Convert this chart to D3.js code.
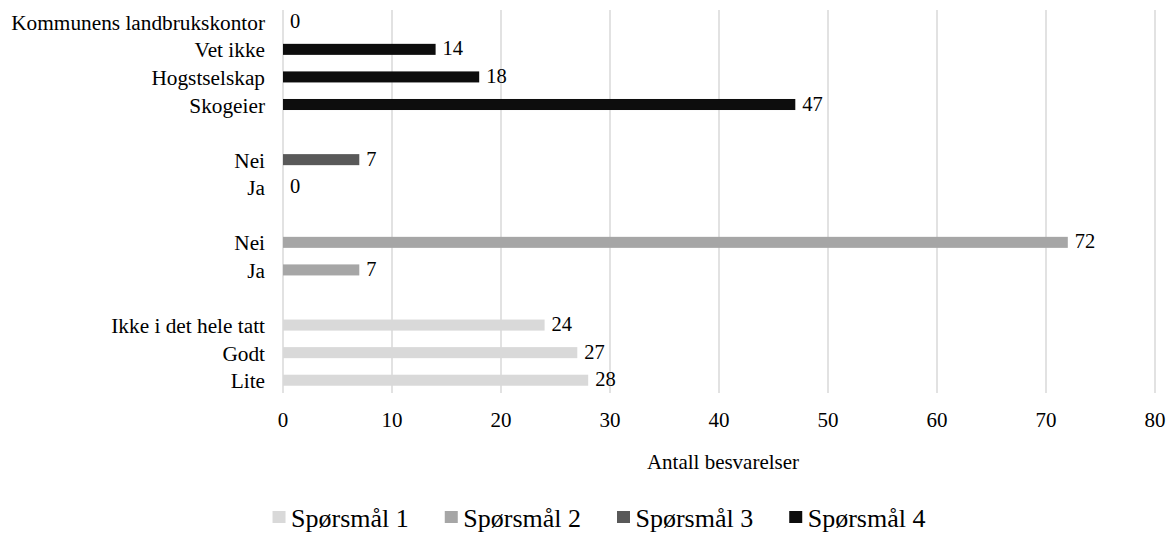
<!DOCTYPE html>
<html>
<head>
<meta charset="utf-8">
<script src="https://cdn.jsdelivr.net/npm/d3@7"></script>
<style>
  html, body { margin: 0; padding: 0; background: #fff; }
  svg { display: block; font-family: "Liberation Serif", "Times New Roman", serif; }
</style>
</head>
<body>
<svg id="chart" width="1173" height="533"></svg>
<script>
// Answer counts per question (bottom-to-top order within each group)
const q1Labels = ["Lite", "Godt", "Ikke i det hele tatt"];
const q1Values = [28, 27, 24];
const q2Labels = ["Ja", "Nei"];
const q2Values = [7, 72];
const q3Labels = ["Ja", "Nei"];
const q3Values = [0, 7];
const q4Labels = ["Skogeier", "Hogstselskap", "Vet ikke", "Kommunens landbrukskontor"];
const q4Values = [47, 18, 14, 0];

const seriesNames = ["Spørsmål 1", "Spørsmål 2", "Spørsmål 3", "Spørsmål 4"];
const seriesColors = ["#d9d9d9", "#a6a6a6", "#595959", "#0d0d0d"];
const xTicks = [0, 10, 20, 30, 40, 50, 60, 70, 80];
const xTitle = "Antall besvarelser";

(function () {
  // Build rows from bottom to top, with an empty slot between question groups
  const groups = [
    { labels: q1Labels, values: q1Values, s: 0 },
    { labels: q2Labels, values: q2Values, s: 1 },
    { labels: q3Labels, values: q3Values, s: 2 },
    { labels: q4Labels, values: q4Values, s: 3 }
  ];
  const rows = [];
  groups.forEach((g, gi) => {
    if (gi > 0) rows.push({ id: "gap" + gi, label: "", value: null, s: null });
    g.labels.forEach((l, i) => rows.push({ id: g.s + "-" + i, label: l, value: g.values[i], s: g.s }));
  });

  const svg = d3.select("#chart");
  const plotLeft = 283, plotRight = 1155, plotTop = 8, plotBottom = 394;

  const x = d3.scaleLinear().domain([0, 80]).range([plotLeft, plotRight]);
  const y = d3.scaleBand().domain(rows.map(r => r.id))
    .range([plotBottom, plotTop]).paddingInner(0.6).paddingOuter(0.3);

  // Vertical gridlines
  svg.append("g").selectAll("line").data(xTicks).join("line")
    .attr("x1", d => x(d)).attr("x2", d => x(d))
    .attr("y1", 10).attr("y2", 393)
    .attr("stroke", "#d9d9d9").attr("stroke-width", 1.5);

  // Tick labels
  svg.append("g").selectAll("text").data(xTicks).join("text")
    .attr("x", d => x(d)).attr("y", 427)
    .attr("text-anchor", "middle")
    .attr("font-size", 21).attr("fill", "#000")
    .text(d => d);

  // Axis title
  svg.append("text")
    .attr("x", 723).attr("y", 469)
    .attr("text-anchor", "middle")
    .attr("font-size", 21).attr("fill", "#000")
    .text(xTitle);

  const dataRows = rows.filter(r => r.value !== null);

  // Bars
  svg.append("g").selectAll("rect").data(dataRows).join("rect")
    .attr("x", x(0))
    .attr("y", d => y(d.id))
    .attr("width", d => x(d.value) - x(0))
    .attr("height", y.bandwidth())
    .attr("fill", d => seriesColors[d.s]);

  // Category labels
  svg.append("g").selectAll("text").data(dataRows).join("text")
    .attr("x", 265)
    .attr("y", d => y(d.id) + y.bandwidth() / 2 + 8)
    .attr("text-anchor", "end")
    .attr("font-size", 21.3).attr("fill", "#000")
    .text(d => d.label);

  // Value labels
  svg.append("g").selectAll("text").data(dataRows).join("text")
    .attr("x", d => x(d.value) + 7)
    .attr("y", d => y(d.id) + y.bandwidth() / 2 + 6)
    .attr("font-size", 20.5).attr("fill", "#000")
    .text(d => d.value);

  // Legend
  const legend = svg.append("g");
  let lx = 0;
  seriesNames.forEach((name, i) => {
    const item = legend.append("g").attr("transform", `translate(${lx},0)`);
    item.append("rect").attr("x", 0).attr("y", 511).attr("width", 13).attr("height", 12)
      .attr("fill", seriesColors[i]);
    const t = item.append("text").attr("x", 18.5).attr("y", 527)
      .attr("font-size", 26).attr("fill", "#000").text(name);
    lx += 18.5 + t.node().getComputedTextLength() + 36;
  });
  const legendWidth = lx - 36;
  legend.attr("transform", `translate(${599 - legendWidth / 2},0)`);
})();
</script>
</body>
</html>
